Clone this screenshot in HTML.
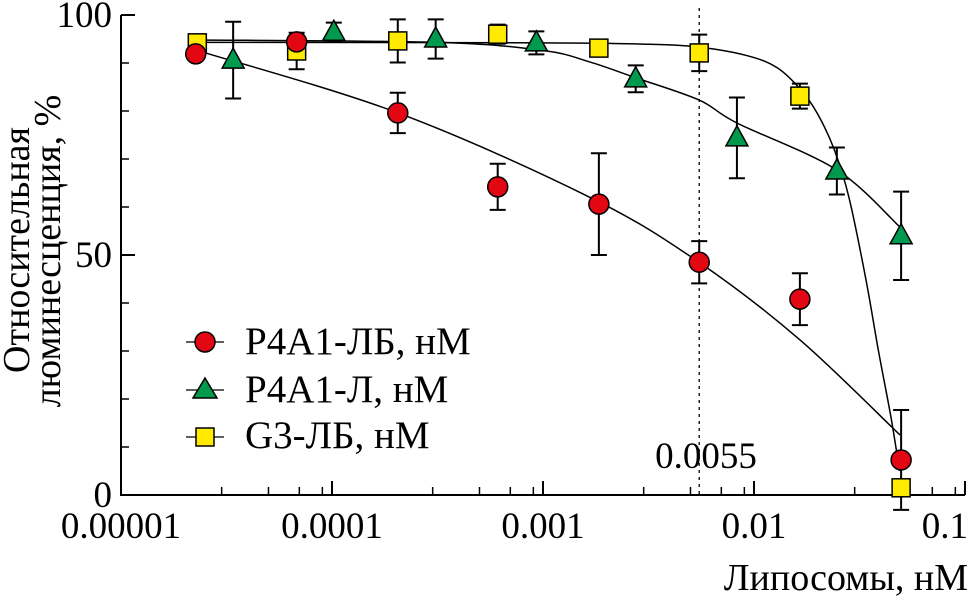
<!DOCTYPE html>
<html><head><meta charset="utf-8">
<style>
html,body{margin:0;padding:0;background:#fff;}
svg{display:block;font-family:"Liberation Serif",serif;}
</style></head>
<body>
<svg id="chart" width="979" height="600" viewBox="0 0 979 600" xmlns="http://www.w3.org/2000/svg">
<g id="axes"></g>
<g id="curves"></g>
<g id="marks"></g>
<text transform="translate(29,250) rotate(-90)" text-anchor="middle" font-size="38">Относительная</text>
<text transform="translate(60,251) rotate(-90)" text-anchor="middle" font-size="38">люминесценция, %</text>
<text x="968" y="590" text-anchor="end" font-size="38">Липосомы, нМ</text>
<text x="706" y="468" text-anchor="middle" font-size="37">0.0055</text>
<g>
<line x1="186" y1="342" x2="224" y2="342" stroke="#000" stroke-width="1.2"/>
<circle cx="205" cy="342" r="10" fill="#e30613" stroke="#000" stroke-width="1.5"/>
<text x="245" y="354" font-size="39">P4A1-ЛБ, нМ</text>
<line x1="186" y1="390" x2="224" y2="390" stroke="#000" stroke-width="1.2"/>
<polygon points="205,378 217,398 193,398" fill="#009a4e" stroke="#000" stroke-width="1.5"/>
<text x="245" y="402" font-size="39">P4A1-Л, нМ</text>
<line x1="186" y1="437" x2="224" y2="437" stroke="#000" stroke-width="1.2"/>
<rect x="196" y="428" width="18" height="18" fill="#ffea00" stroke="#000" stroke-width="1.5"/>
<text x="245" y="448" font-size="39">G3-ЛБ, нМ</text>
</g>
</svg>
<script>
const xTicks = [0.00001, 0.0001, 0.001, 0.01, 0.1];
const xTickLabels = ["0.00001", "0.0001", "0.001", "0.01", "0.1"];
const yTicks = [0, 50, 100];
const ic50 = 0.0055;
const redX = [2.26e-5, 6.8e-5, 2.05e-4, 6.1e-4, 1.84e-3, 5.5e-3, 0.0165, 0.0498];
const redY = [91.9, 94.4, 79.6, 64.2, 60.6, 48.5, 40.8, 7.3];
const redErr = [0, 0, 4.2, 4.8, 10.6, 4.4, 5.4, 10.4];
const greenX = [3.4e-5, 1.02e-4, 3.1e-4, 9.3e-4, 2.75e-3, 8.3e-3, 0.0247, 0.0498];
const greenY = [90.6, 96.4, 95, 94.2, 86.7, 74.4, 67.5, 54];
const greenErr = [8, 2, 4.1, 2.4, 2.8, 8.4, 4.9, 9.2];
const yellowX = [2.3e-5, 6.8e-5, 2.05e-4, 6.1e-4, 1.84e-3, 5.5e-3, 0.0165, 0.0498];
const yellowY = [94.2, 92.5, 94.6, 96, 93.1, 92.1, 83.1, 1.5];
const yellowErr = [0, 3.8, 4.5, 2, 1, 3.8, 2.6, 0];
// fitted curves (log10 x, y)
const redFitLog = [-4.645, -3.687, -2.777, -2.261, -1.782, -1.308];
const redFitY = [92.7, 79.6, 62, 48.5, 32.3, 12.5];
const greenFitLog = [-4.64, -3.5, -3.0, -2.777, -2.559, -2.261, -2.081, -1.607, -1.308];
const greenFitY = [94.8, 94.3, 92.6, 90.2, 86.9, 82.3, 77.5, 67.7, 55.8];
const yellowFitLog = [-4.64, -3.0, -2.5, -2.26, -2.03, -1.89, -1.78, -1.70, -1.62, -1.55, -1.47, -1.41, -1.35, -1.31];
const yellowFitY = [94.3, 94.2, 93.9, 93.3, 91.5, 89, 84.5, 79.5, 72, 62, 45, 30, 16, 5];

const X0 = 121, DEC = 211, Y0 = 495, YS = 4.8;
function xs(v){ return X0 + DEC*(Math.log10(v)+5); }
function xl(l){ return X0 + DEC*(l+5); }
function ys(v){ return Y0 - YS*v; }
const NS = "http://www.w3.org/2000/svg";
function mk(tag, parent, attrs){ const e=document.createElementNS(NS,tag); for(const k in attrs) e.setAttribute(k,attrs[k]); parent.appendChild(e); return e; }

const axes = document.getElementById('axes');
const ax = mk('path', axes, {d:`M${X0},${ys(100)} V${Y0} H${xs(0.1)}`, fill:'none', stroke:'#000', 'stroke-width':2});


for(let i=0;i<xTicks.length;i++){
  const x = xs(xTicks[i]);
  const t = mk('line', axes, {x1:x,x2:x,y1:Y0,y2:Y0-14,stroke:'#000','stroke-width':2});
  
  
  const last = i===xTicks.length-1;
  const lb = mk('text', axes, {x:last? x+3 : x, y:Y0+43, 'text-anchor':last?'end':'middle','font-size':37});
  lb.textContent = xTickLabels[i];
  
  
  if(!last){
    for(const m of [3,5,7,9]){
      const xm = xs(xTicks[i]*m);
      const mt = mk('line', axes, {x1:xm,x2:xm,y1:Y0,y2:Y0-8,stroke:'#000','stroke-width':1.5});
      
      
    }
  }
}
for(let v=0; v<=100; v+=10){
  const major = yTicks.includes(v);
  const t = mk('line', axes, {x1:X0,x2:X0+(major?14:8),y1:ys(v),y2:ys(v),stroke:'#000','stroke-width':major?2:1.5});
  
  
}
for(const v of yTicks){
  const lb = mk('text', axes, {x:112, y:ys(v)+12, 'text-anchor':'end','font-size':37});
  lb.textContent = String(v);
  
  
}
const ic = mk('line', axes, {x1:xs(ic50),x2:xs(ic50),y1:8,y2:Y0,stroke:'#000','stroke-width':1.3,'stroke-dasharray':'3,4'});


const curves = document.getElementById('curves');
function spline(L, Y){
  const P = L.map((l,i)=>[xl(l), ys(Y[i])]);
  let d = `M${P[0][0]},${P[0][1]}`;
  for(let i=0;i<P.length-1;i++){
    const p0=P[Math.max(0,i-1)], p1=P[i], p2=P[i+1], p3=P[Math.min(P.length-1,i+2)];
    const c1=[p1[0]+(p2[0]-p0[0])/6, p1[1]+(p2[1]-p0[1])/6];
    const c2=[p2[0]-(p3[0]-p1[0])/6, p2[1]-(p3[1]-p1[1])/6];
    d += ` C${c1[0]},${c1[1]} ${c2[0]},${c2[1]} ${p2[0]},${p2[1]}`;
  }
  return d;
}
const fits = [[redFitLog,redFitY,'fit-curve-p4a1-lb'],[greenFitLog,greenFitY,'fit-curve-p4a1-l'],[yellowFitLog,yellowFitY,'fit-curve-g3-lb']];
for(const f of fits){
  const p = mk('path', curves, {d:spline(f[0],f[1]), fill:'none', stroke:'#000','stroke-width':1.5});
  
  
}
const marks = document.getElementById('marks');
function errbar(x, y, e){
  if(!e) return;
  const g = mk('path', marks, {d:`M${x},${ys(y+e)} V${ys(y-e)} M${x-8},${ys(y+e)} H${x+8} M${x-8},${ys(y-e)} H${x+8}`, stroke:'#000','stroke-width':2, fill:'none'});
  
  
}
for(let i=0;i<yellowX.length;i++) errbar(xs(yellowX[i]), yellowY[i], yellowErr[i]);
for(let i=0;i<greenX.length;i++) errbar(xs(greenX[i]), greenY[i], greenErr[i]);
for(let i=0;i<redX.length;i++) errbar(xs(redX[i]), redY[i], redErr[i]);
for(let i=0;i<yellowX.length;i++){
  const x=xs(yellowX[i]), y=ys(yellowY[i]);
  const r = mk('rect', marks, {x:x-9,y:y-9,width:18,height:18,fill:'#ffea00',stroke:'#000','stroke-width':1.5});
  
  
}
for(let i=0;i<greenX.length;i++){
  const x=xs(greenX[i]), y=ys(greenY[i]);
  const t = mk('polygon', marks, {points:`${x},${y-12} ${x+11},${y+8} ${x-11},${y+8}`,fill:'#009a4e',stroke:'#000','stroke-width':1.5});
  
  
}
for(let i=0;i<redX.length;i++){
  const c = mk('circle', marks, {cx:xs(redX[i]),cy:ys(redY[i]),r:10,fill:'#e30613',stroke:'#000','stroke-width':1.5});
  
  
}
</script>
</body></html>
